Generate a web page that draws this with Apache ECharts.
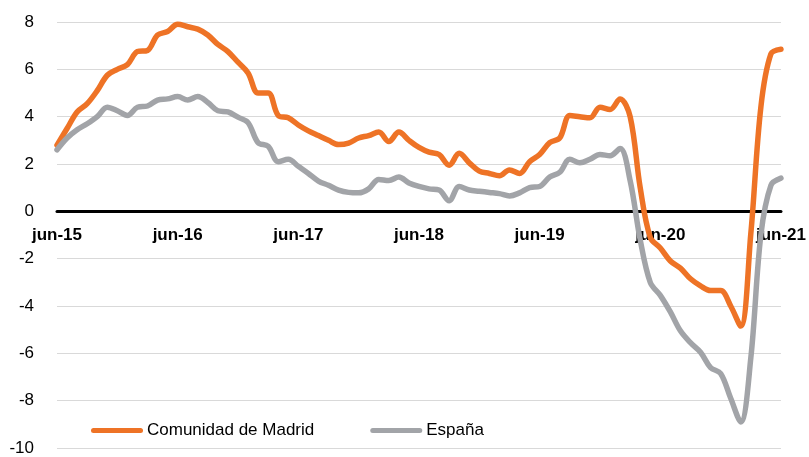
<!DOCTYPE html>
<html>
<head>
<meta charset="utf-8">
<script src="https://cdn.jsdelivr.net/npm/echarts@6/dist/echarts.min.js"></script>
<style>
  html, body { margin: 0; padding: 0; background: #fff; }
  #chart { width: 809px; height: 457px; }
</style>
</head>
<body>
<div id="chart"></div>
<script>
// Monthly series, jun-15 .. jun-21 (73 points).
const monthNames = ['jun', 'jul', 'ago', 'sep', 'oct', 'nov', 'dic', 'ene', 'feb', 'mar', 'abr', 'may'];
const startYear = 15;
const months = [];
for (let i = 0; i < 73; i++) {
  const m = i % 12;
  const yy = startYear + Math.floor((i + 5) / 12); // ene rolls the year
  months.push(monthNames[m] + '-' + yy);
}

const madrid = [
  2.8, 3.5, 4.2, 4.55, 5.1, 5.75, 6.0, 6.2, 6.75, 6.8, 7.45, 7.6,
  7.9, 7.8, 7.7, 7.45, 7.05, 6.75, 6.3, 5.85, 5.0, 5.0, 4.05, 3.95,
  3.65, 3.4, 3.2, 3.0, 2.82, 2.88, 3.1, 3.2, 3.35, 2.95, 3.35, 3.0,
  2.7, 2.5, 2.4, 1.95, 2.45, 2.05, 1.7, 1.6, 1.5, 1.75, 1.6, 2.1,
  2.4, 2.9, 3.1, 4.05, 4.0, 3.95, 4.4, 4.3, 4.75, 4.0, 1.0, -1.1,
  -1.55, -2.1, -2.4, -2.85, -3.15, -3.35, -3.35, -4.0, -4.85, -0.95, 4.4, 6.65,
  6.85
];
const espana = [
  2.6, 3.1, 3.45, 3.7, 4.0, 4.4, 4.25, 4.05, 4.4, 4.45, 4.7, 4.75,
  4.85, 4.7, 4.85, 4.6, 4.25, 4.2, 3.98, 3.75, 2.9, 2.75, 2.1, 2.2,
  1.9, 1.6, 1.28, 1.1, 0.9, 0.8, 0.78, 0.95, 1.35, 1.3, 1.45, 1.2,
  1.05, 0.95, 0.9, 0.45, 1.05, 0.9, 0.85, 0.8, 0.75, 0.65, 0.78, 1.0,
  1.05, 1.45, 1.65, 2.2, 2.05, 2.2, 2.4, 2.35, 2.65, 1.3, -1.2, -3.0,
  -3.55, -4.25, -5.05, -5.55, -5.95, -6.6, -6.85, -7.9, -8.9, -6.2, -1.0, 1.1,
  1.4
];
const seriesNames = ['Comunidad de Madrid', 'España'];
const colors = ['#EE7326', '#A2A4A8'];
const yMin = -10, yMax = 8, yStep = 2;

const FONT = '"Liberation Sans", Arial, sans-serif';
const H = 457, GRID_TOP = 22, GRID_BOTTOM = 9;
// Category axis sits on the zero line (Excel style): shift it up from the grid
// bottom by the height of the negative part of the value range.
const plotH = H - GRID_TOP - GRID_BOTTOM;
const zeroOffset = -plotH * (0 - yMin) / (yMax - yMin);

const chart = echarts.init(document.getElementById('chart'), null, { renderer: 'canvas' });

const mkLine = (name, data, color) => ({
  name,
  type: 'line',
  data,
  smooth: 0.35,
  symbol: 'none',
  lineStyle: { color, width: 5.5, cap: 'round', join: 'round' },
  itemStyle: { color },
  emphasis: { disabled: true },
});
// rounded bar used as the legend key
const keyIcon = 'path://M2.5,0 H49.5 A2.5,2.5 0 0 1 49.5,5 H2.5 A2.5,2.5 0 0 1 2.5,0 Z';

chart.setOption({
  animation: false,
  color: colors,
  grid: { left: 57, right: 27, top: GRID_TOP, bottom: GRID_BOTTOM },
  legend: {
    left: 86, top: 417,
    icon: keyIcon,
    itemWidth: 52, itemHeight: 5, itemGap: 56,
    textStyle: { fontFamily: FONT, fontSize: 17, color: '#000', padding: [0, 0, 0, -1] },
    data: seriesNames,
  },
  xAxis: {
    type: 'category',
    data: months,
    boundaryGap: false,
    offset: zeroOffset,
    axisLine: { onZero: false, lineStyle: { color: '#000', width: 3 } },
    axisTick: { show: false },
    axisLabel: {
      interval: 11, margin: 15,
      fontFamily: FONT, fontSize: 17, fontWeight: 'bold', color: '#000',
      showMaxLabel: true,
    },
    splitLine: { show: false },
    z: 1,
  },
  yAxis: {
    type: 'value',
    min: yMin, max: yMax, interval: yStep,
    axisLine: { show: false },
    axisTick: { show: false },
    axisLabel: { margin: 23, fontFamily: FONT, fontSize: 17, color: '#000' },
    splitLine: { lineStyle: { color: '#d9d9d9', width: 1 } },
  },
  series: [
    mkLine(seriesNames[0], madrid, colors[0]),
    mkLine(seriesNames[1], espana, colors[1]),
  ],
});
</script>
</body>
</html>
